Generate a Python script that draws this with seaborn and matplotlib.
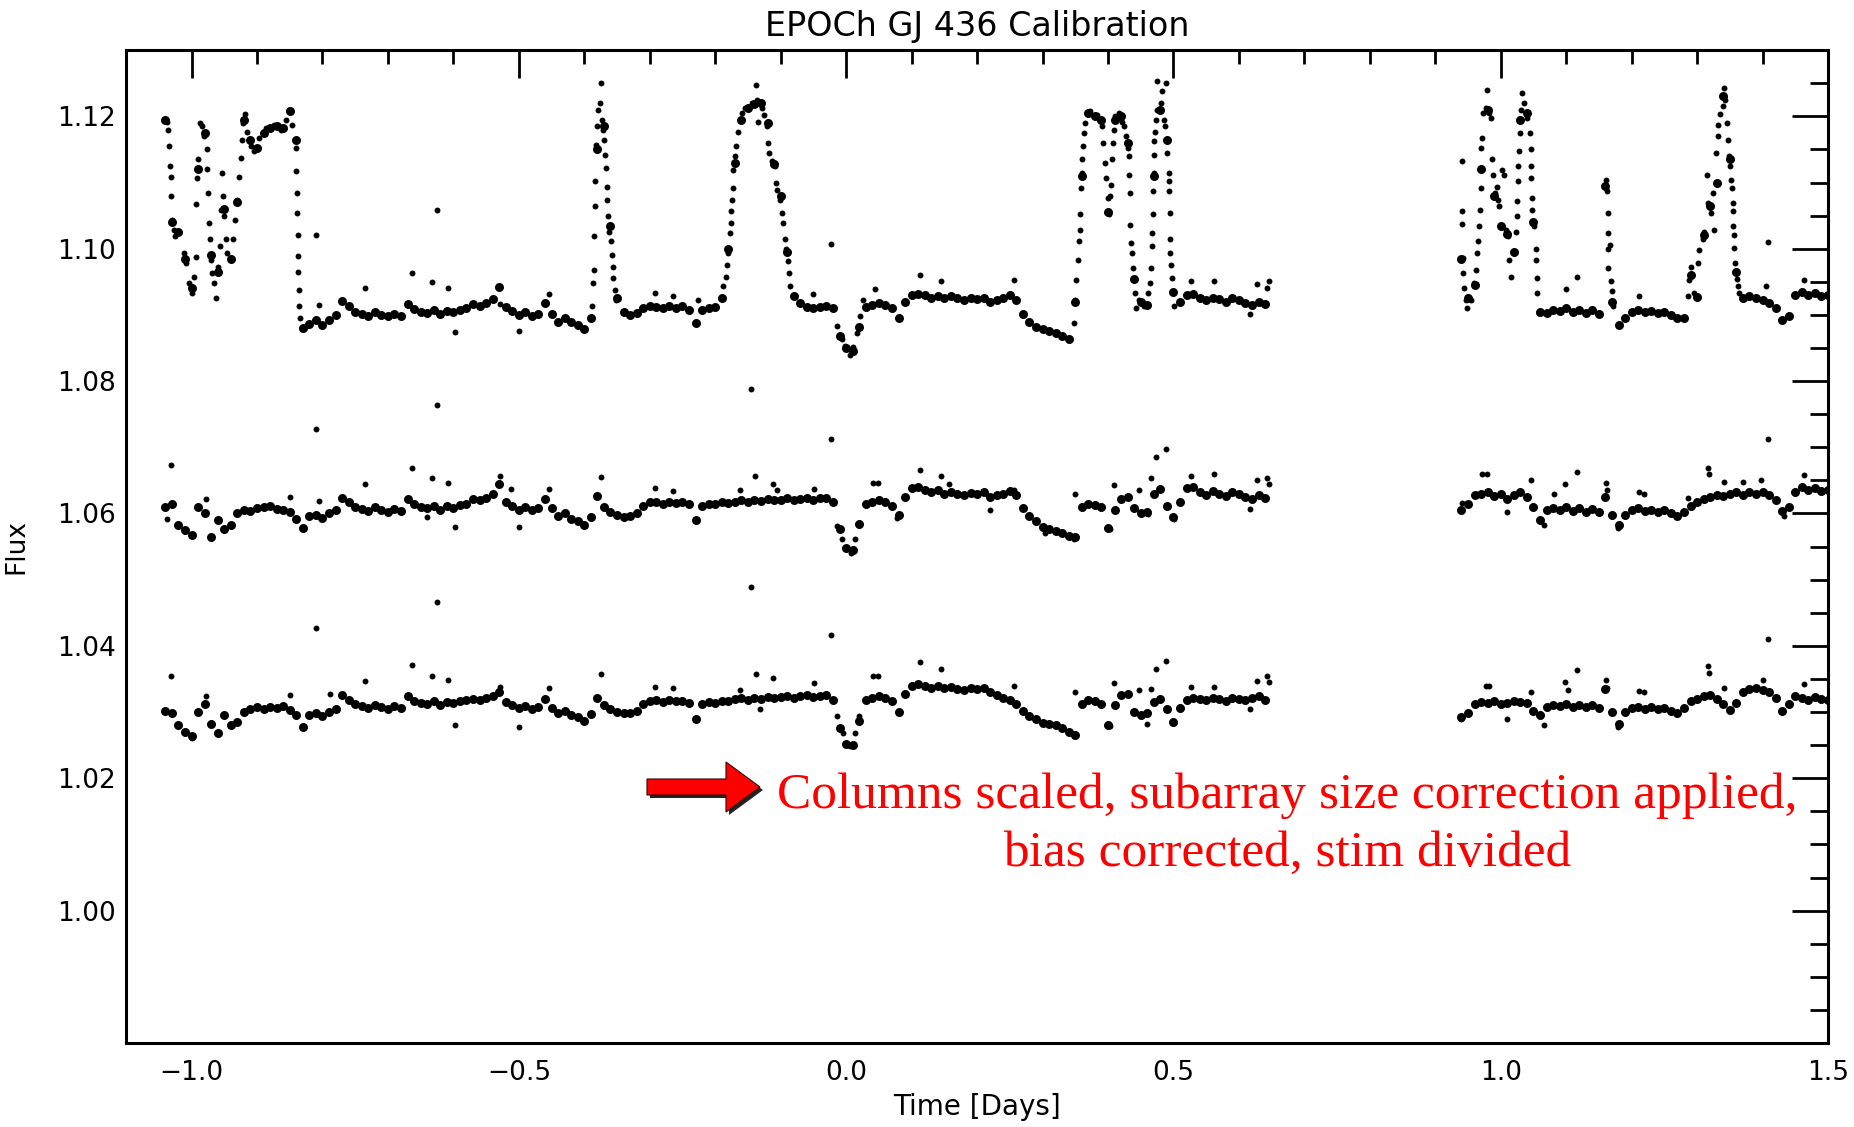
import numpy as np
import pandas as pd
import matplotlib
matplotlib.use("Agg")
import matplotlib.pyplot as plt
from matplotlib.ticker import MultipleLocator, FuncFormatter
from matplotlib.patches import Polygon
import seaborn as sns

# ---- light curves (0.01 d cadence) ----
T_STEP = 0.01
T_START_A = -1.04   # first chunk -1.04 .. 0.64
T_START_B = 0.94    # second chunk 0.94 .. 1.50

# raw (top) curve
top_a = [
    1.1195, 1.1040, 1.1025, 1.0985, 1.0940, 1.1120, 1.1175, 1.0990, 1.0965, 1.1060,
    1.0985, 1.1070, 1.1195, 1.1165, 1.1152, 1.1175, 1.1183, 1.1186, 1.1182, 1.1208,
    1.1165, 1.0880, 1.0886, 1.0892, 1.0885, 1.0893, 1.0900, 1.0921, 1.0913, 1.0905,
    1.0902, 1.0899, 1.0905, 1.0900, 1.0898, 1.0902, 1.0899, 1.0917, 1.0909, 1.0905,
    1.0903, 1.0907, 1.0901, 1.0906, 1.0904, 1.0908, 1.0910, 1.0916, 1.0914, 1.0918,
    1.0924, 1.0942, 1.0912, 1.0906, 1.0900, 1.0904, 1.0899, 1.0902, 1.0918, 1.0902,
    1.0890, 1.0895, 1.0890, 1.0885, 1.0878, 1.0895, 1.1150, 1.1185, 1.1035, 1.0925,
    1.0905, 1.0900, 1.0903, 1.0910, 1.0913, 1.0912, 1.0910, 1.0914, 1.0911, 1.0913,
    1.0908, 1.0888, 1.0908, 1.0910, 1.0912, 1.0925, 1.1000, 1.1130, 1.1195, 1.1212,
    1.1218, 1.1220, 1.1190, 1.1128, 1.1080, 1.0995, 1.0928, 1.0918, 1.0912, 1.0910,
    1.0912, 1.0914, 1.0910, 1.0868, 1.0850, 1.0845, 1.0882, 1.0912, 1.0915, 1.0918,
    1.0915, 1.0910, 1.0896, 1.0920, 1.0930, 1.0932, 1.0930, 1.0926, 1.0929, 1.0925,
    1.0928, 1.0925, 1.0923, 1.0926, 1.0924, 1.0926, 1.0920, 1.0922, 1.0925, 1.0930,
    1.0922, 1.0902, 1.0890, 1.0882, 1.0878, 1.0875, 1.0872, 1.0868, 1.0864, 1.0920,
    1.1110, 1.1205, 1.1200, 1.1195, 1.1055, 1.1195, 1.1200, 1.1160, 1.0955, 1.0920,
    1.0915, 1.1110, 1.1210, 1.1165, 1.0935, 1.0920, 1.0930, 1.0932, 1.0925, 1.0922,
    1.0926, 1.0924, 1.0920, 1.0925, 1.0922, 1.0918, 1.0915, 1.0920, 1.0916,
]
top_b = [
    1.0985, 1.0925, 1.0945, 1.1120, 1.1210, 1.1080, 1.1035, 1.1022, 1.0995, 1.1195,
    1.1205, 1.1040, 1.0905, 1.0903, 1.0908, 1.0906, 1.0910, 1.0904, 1.0908, 1.0903,
    1.0907, 1.0902, 1.1095, 1.0920, 1.0885, 1.0895, 1.0905, 1.0908, 1.0904, 1.0906,
    1.0903, 1.0905, 1.0900, 1.0896, 1.0895, 1.0960, 1.0927, 1.1020, 1.1065, 1.1100,
    1.1230, 1.1135, 1.0965, 1.0925, 1.0928, 1.0925, 1.0922, 1.0918, 1.0910, 1.0893,
    1.0898, 1.0930, 1.0935, 1.0930, 1.0933, 1.0928, 1.0930,
]

# intermediate (middle) curve
mid_a = [
    1.0610, 1.0615, 1.0582, 1.0575, 1.0568, 1.0610, 1.0600, 1.0565, 1.0590, 1.0576,
    1.0582, 1.0600, 1.0606, 1.0604, 1.0608, 1.0610, 1.0612, 1.0607, 1.0605, 1.0603,
    1.0592, 1.0578, 1.0596, 1.0598, 1.0593, 1.0600, 1.0605, 1.0624, 1.0618, 1.0610,
    1.0607, 1.0604, 1.0610, 1.0605, 1.0603, 1.0607, 1.0604, 1.0622, 1.0614, 1.0610,
    1.0608, 1.0612, 1.0606, 1.0611, 1.0609, 1.0613, 1.0615, 1.0622, 1.0620, 1.0624,
    1.0630, 1.0645, 1.0618, 1.0612, 1.0606, 1.0610, 1.0605, 1.0608, 1.0622, 1.0608,
    1.0596, 1.0600, 1.0592, 1.0588, 1.0582, 1.0594, 1.0626, 1.0610, 1.0603, 1.0598,
    1.0595, 1.0596, 1.0600, 1.0612, 1.0617, 1.0618, 1.0615, 1.0618, 1.0616, 1.0617,
    1.0614, 1.0590, 1.0612, 1.0615, 1.0614, 1.0617, 1.0616, 1.0618, 1.0620, 1.0617,
    1.0621, 1.0619, 1.0622, 1.0620, 1.0621, 1.0623, 1.0620, 1.0622, 1.0624, 1.0621,
    1.0623, 1.0624, 1.0618, 1.0576, 1.0548, 1.0545, 1.0584, 1.0614, 1.0618, 1.0620,
    1.0617, 1.0612, 1.0598, 1.0625, 1.0638, 1.0640, 1.0636, 1.0632, 1.0635, 1.0630,
    1.0633, 1.0630, 1.0628, 1.0631, 1.0629, 1.0632, 1.0625, 1.0628, 1.0630, 1.0634,
    1.0628, 1.0608, 1.0596, 1.0588, 1.0580, 1.0576, 1.0574, 1.0570, 1.0566, 1.0565,
    1.0610, 1.0615, 1.0613, 1.0610, 1.0578, 1.0605, 1.0622, 1.0625, 1.0608, 1.0600,
    1.0603, 1.0630, 1.0637, 1.0612, 1.0594, 1.0618, 1.0638, 1.0640, 1.0632, 1.0628,
    1.0634, 1.0630, 1.0627, 1.0632, 1.0629, 1.0625, 1.0622, 1.0628, 1.0624,
]
mid_b = [
    1.0605, 1.0615, 1.0628, 1.0630, 1.0632, 1.0626, 1.0630, 1.0622, 1.0628, 1.0632,
    1.0625, 1.0610, 1.0590, 1.0605, 1.0608, 1.0606, 1.0610, 1.0604, 1.0608, 1.0603,
    1.0607, 1.0602, 1.0625, 1.0598, 1.0582, 1.0598, 1.0605, 1.0608, 1.0604, 1.0606,
    1.0603, 1.0605, 1.0600, 1.0596, 1.0603, 1.0612, 1.0618, 1.0622, 1.0625, 1.0628,
    1.0626, 1.0630, 1.0632, 1.0628, 1.0633, 1.0630, 1.0632, 1.0628, 1.0620, 1.0604,
    1.0610, 1.0632, 1.0640, 1.0636, 1.0638, 1.0634, 1.0636,
]

# fully calibrated (bottom) curve
bot_a = [
    1.0302, 1.0298, 1.0280, 1.0270, 1.0264, 1.0300, 1.0312, 1.0282, 1.0268, 1.0296,
    1.0280, 1.0285, 1.0300, 1.0305, 1.0307, 1.0304, 1.0308, 1.0306, 1.0309, 1.0303,
    1.0295, 1.0278, 1.0296, 1.0298, 1.0294, 1.0300, 1.0304, 1.0326, 1.0318, 1.0312,
    1.0309, 1.0306, 1.0311, 1.0308, 1.0305, 1.0309, 1.0306, 1.0325, 1.0317, 1.0314,
    1.0312, 1.0316, 1.0311, 1.0315, 1.0313, 1.0316, 1.0318, 1.0320, 1.0318, 1.0321,
    1.0324, 1.0330, 1.0315, 1.0310, 1.0306, 1.0309, 1.0305, 1.0308, 1.0320, 1.0306,
    1.0298, 1.0302, 1.0296, 1.0292, 1.0286, 1.0297, 1.0322, 1.0310, 1.0304, 1.0300,
    1.0298, 1.0299, 1.0302, 1.0312, 1.0317, 1.0318, 1.0315, 1.0318, 1.0316, 1.0317,
    1.0314, 1.0290, 1.0312, 1.0315, 1.0314, 1.0316, 1.0317, 1.0319, 1.0321, 1.0318,
    1.0322, 1.0320, 1.0323, 1.0321, 1.0323, 1.0325, 1.0322, 1.0324, 1.0326, 1.0323,
    1.0325, 1.0326, 1.0318, 1.0276, 1.0252, 1.0250, 1.0286, 1.0318, 1.0322, 1.0324,
    1.0321, 1.0316, 1.0300, 1.0328, 1.0340, 1.0343, 1.0340, 1.0337, 1.0340, 1.0336,
    1.0338, 1.0335, 1.0334, 1.0337, 1.0335, 1.0337, 1.0330, 1.0326, 1.0322, 1.0318,
    1.0312, 1.0302, 1.0294, 1.0290, 1.0284, 1.0282, 1.0280, 1.0276, 1.0270, 1.0266,
    1.0312, 1.0318, 1.0316, 1.0312, 1.0280, 1.0310, 1.0326, 1.0328, 1.0300, 1.0296,
    1.0298, 1.0315, 1.0320, 1.0304, 1.0285, 1.0306, 1.0318, 1.0322, 1.0320, 1.0318,
    1.0322, 1.0319, 1.0316, 1.0322, 1.0320, 1.0318, 1.0321, 1.0324, 1.0318,
]
bot_b = [
    1.0292, 1.0298, 1.0312, 1.0315, 1.0313, 1.0316, 1.0312, 1.0314, 1.0317, 1.0315,
    1.0313, 1.0302, 1.0296, 1.0308, 1.0311, 1.0309, 1.0312, 1.0308, 1.0311, 1.0307,
    1.0310, 1.0306, 1.0335, 1.0300, 1.0282, 1.0300, 1.0306, 1.0308, 1.0305, 1.0307,
    1.0304, 1.0306, 1.0302, 1.0298, 1.0306, 1.0316, 1.0320, 1.0324, 1.0326, 1.0320,
    1.0312, 1.0303, 1.0314, 1.0330, 1.0335, 1.0336, 1.0333, 1.0330, 1.0322, 1.0302,
    1.0312, 1.0324, 1.0322, 1.0318, 1.0323, 1.0320, 1.0318,
]

# extra samples on steep edges + outliers (time, flux)
top_extra = [
    (-1.0372, 1.1192), (-1.0362, 1.1180), (-1.0346, 1.1155), (-1.0331, 1.1125), (-1.0321, 1.1108),
    (-1.0311, 1.1079), (-1.0295, 1.1044), (-1.0270, 1.1029), (-1.0245, 1.1019), (-1.0117, 1.0994),
    (-1.0092, 1.0978), (-1.0041, 1.0948), (-1.0000, 1.0933), (-0.9964, 1.0958), (-0.9939, 1.0988),
    (-0.9929, 1.1067), (-0.9913, 1.1107), (-0.9898, 1.1135), (-0.9878, 1.1190), (-0.9847, 1.1185),
    (-0.9811, 1.1170), (-0.9770, 1.1150), (-0.9760, 1.1120), (-0.9745, 1.1084), (-0.9735, 1.1039),
    (-0.9725, 1.1014), (-0.9709, 1.0983), (-0.9684, 1.0963), (-0.9658, 1.0948), (-0.9633, 1.0925),
    (-0.9597, 1.0973), (-0.9572, 1.1004), (-0.9551, 1.1059), (-0.9541, 1.1114), (-0.9521, 1.1079),
    (-0.9500, 1.1049), (-0.9480, 1.1014), (-0.9455, 1.0994), (-0.9404, 1.0986), (-0.9368, 1.1014),
    (-0.9342, 1.1044), (-0.9312, 1.1074), (-0.9276, 1.1109), (-0.9251, 1.1137), (-0.9235, 1.1165),
    (-0.9215, 1.1190), (-0.9190, 1.1203), (-0.9149, 1.1177), (-0.9098, 1.1155), (-0.9047, 1.1147),
    (-0.8970, 1.1167), (-0.8868, 1.1182), (-0.8741, 1.1187), (-0.8639, 1.1180), (-0.8563, 1.1195),
    (-0.8512, 1.1210), (-0.8461, 1.1187), (-0.8410, 1.1152), (-0.8400, 1.1118), (-0.8389, 1.1084),
    (-0.8389, 1.1054), (-0.8379, 1.1021), (-0.8374, 1.0989), (-0.8369, 1.0965), (-0.8359, 1.0938),
    (-0.8359, 1.0913), (-0.8348, 1.0895), (-0.8308, 1.0878),
    (-0.6243, 1.1059), (-0.8104, 1.1021), (-0.6626, 1.0964), (-0.7355, 1.0940), (-0.6320, 1.0949),
    (-0.6080, 1.0941), (-0.5978, 1.0874), (-0.4995, 1.0875), (-0.4536, 1.0932), (-0.5290, 1.0916),
    (-0.8053, 1.0915),
    (-0.3879, 1.0913), (-0.3863, 1.0948), (-0.3853, 1.0968), (-0.3848, 1.1019), (-0.3838, 1.1064),
    (-0.3838, 1.1102), (-0.3828, 1.1157), (-0.3812, 1.1185), (-0.3787, 1.1210), (-0.3761, 1.1220),
    (-0.3751, 1.1250), (-0.3736, 1.1195), (-0.3710, 1.1180), (-0.3695, 1.1165), (-0.3685, 1.1142),
    (-0.3675, 1.1122), (-0.3659, 1.1094), (-0.3649, 1.1074), (-0.3634, 1.1049), (-0.3619, 1.1026),
    (-0.3598, 1.1011), (-0.3583, 1.0991), (-0.3568, 1.0973), (-0.3558, 1.0956), (-0.3532, 1.0938),
    (-0.3517, 1.0923),
    (-0.1876, 1.0943), (-0.1840, 1.0958), (-0.1825, 1.0976), (-0.1799, 1.0993), (-0.1774, 1.1024),
    (-0.1764, 1.1039), (-0.1758, 1.1057), (-0.1748, 1.1074), (-0.1733, 1.1092), (-0.1723, 1.1119),
    (-0.1697, 1.1140), (-0.1682, 1.1155), (-0.1646, 1.1177), (-0.1595, 1.1205), (-0.1544, 1.1213),
    (-0.1442, 1.1220), (-0.1381, 1.1248), (-0.1366, 1.1225), (-0.1290, 1.1213), (-0.1254, 1.1202),
    (-0.1340, 1.1192), (-0.1213, 1.1185), (-0.1188, 1.1160), (-0.1172, 1.1145), (-0.1137, 1.1132),
    (-0.1086, 1.1125), (-0.1070, 1.1099), (-0.1050, 1.1089), (-0.1009, 1.1074), (-0.0984, 1.1054),
    (-0.0958, 1.1039), (-0.0933, 1.1014), (-0.0917, 1.0999), (-0.0892, 1.0981), (-0.0866, 1.0963),
    (-0.0856, 1.0943), (-0.0805, 1.0928),
    (-0.0143, 1.0883), (-0.0066, 1.0863), (-0.0015, 1.0853), (0.0061, 1.0840), (0.0112, 1.0852),
    (0.0163, 1.0873), (0.0214, 1.0898), (0.0265, 1.0923),
    (-0.0234, 1.1007), (0.1132, 1.0961), (0.1453, 1.0952), (0.0444, 1.0939), (-0.0499, 1.0932),
    (-0.2920, 1.0933), (-0.2640, 1.0928), (-0.2258, 1.0923), (0.2559, 1.0953),
    (0.3476, 1.0888), (0.3502, 1.0923), (0.3517, 1.0953), (0.3537, 1.0983), (0.3553, 1.1011),
    (0.3568, 1.1029), (0.3578, 1.1052), (0.3588, 1.1092), (0.3604, 1.1115), (0.3609, 1.1135),
    (0.3619, 1.1155), (0.3629, 1.1175), (0.3655, 1.1190), (0.3680, 1.1205), (0.3731, 1.1208),
    (0.3782, 1.1200), (0.3833, 1.1202), (0.3884, 1.1195), (0.3909, 1.1185), (0.3925, 1.1160),
    (0.3960, 1.1130), (0.3976, 1.1107), (0.3996, 1.1077), (0.4011, 1.1052), (0.4037, 1.1079),
    (0.4047, 1.1097), (0.4062, 1.1135), (0.4078, 1.1160), (0.4088, 1.1180), (0.4113, 1.1200),
    (0.4164, 1.1205), (0.4215, 1.1192), (0.4241, 1.1185), (0.4282, 1.1170), (0.4302, 1.1152),
    (0.4317, 1.1140), (0.4327, 1.1112), (0.4332, 1.1084), (0.4343, 1.1036), (0.4353, 1.1009),
    (0.4368, 1.0993), (0.4383, 1.0971), (0.4394, 1.0953), (0.4419, 1.0933), (0.4434, 1.0911),
    (0.4470, 1.0923), (0.4547, 1.0913), (0.4608, 1.0933),
    (0.4648, 1.0948), (0.4659, 1.0971), (0.4669, 1.1004), (0.4679, 1.1024), (0.4684, 1.1052),
    (0.4694, 1.1087), (0.4699, 1.1115), (0.4699, 1.1142), (0.4710, 1.1162), (0.4720, 1.1177),
    (0.4735, 1.1195), (0.4750, 1.1210), (0.4750, 1.1254), (0.4812, 1.1220), (0.4827, 1.1238),
    (0.4888, 1.1251), (0.4852, 1.1195), (0.4878, 1.1185), (0.4893, 1.1165), (0.4903, 1.1145),
    (0.4929, 1.1115), (0.4929, 1.1102), (0.4939, 1.1087), (0.4944, 1.1054), (0.4954, 1.1014),
    (0.4954, 1.0993), (0.4964, 1.0976), (0.4980, 1.0956), (0.4995, 1.0933), (0.5005, 1.0913),
    (0.6432, 1.0941), (0.6458, 1.0951), (0.6167, 1.0901), (0.5275, 1.0951), (0.5617, 1.0951),
    (0.6269, 1.0946),
    (0.9414, 1.1132), (0.9414, 1.1057), (0.9414, 1.1037), (0.9429, 1.0986), (0.9429, 1.0963),
    (0.9440, 1.0941), (0.9465, 1.0923), (0.9491, 1.0910), (0.9542, 1.0923), (0.9592, 1.0948),
    (0.9618, 1.0968), (0.9643, 1.0994), (0.9654, 1.1011), (0.9669, 1.1034), (0.9684, 1.1059),
    (0.9694, 1.1092), (0.9694, 1.1122), (0.9705, 1.1152), (0.9720, 1.1167), (0.9735, 1.1205),
    (0.9771, 1.1213), (0.9796, 1.1240), (0.9822, 1.1205), (0.9847, 1.1198), (0.9873, 1.1135),
    (0.9888, 1.1112), (0.9908, 1.1084), (0.9939, 1.1094), (0.9959, 1.1074), (0.9975, 1.1064),
    (1.0000, 1.1034), (1.0025, 1.1119), (1.0051, 1.1112), (1.0077, 1.1029), (1.0112, 1.1019),
    (1.0128, 1.0983), (1.0153, 1.0958), (1.0204, 1.0994), (1.0230, 1.1026), (1.0245, 1.1049),
    (1.0255, 1.1072), (1.0265, 1.1102), (1.0270, 1.1125), (1.0281, 1.1147), (1.0291, 1.1175),
    (1.0306, 1.1210), (1.0331, 1.1235), (1.0357, 1.1220), (1.0398, 1.1198), (1.0444, 1.1175),
    (1.0459, 1.1150), (1.0459, 1.1125), (1.0459, 1.1107), (1.0474, 1.1077), (1.0484, 1.1059),
    (1.0510, 1.1034), (1.0535, 1.0999), (1.0535, 1.0983), (1.0550, 1.0956), (1.0561, 1.0933),
    (1.0586, 1.0903),
    (1.1606, 1.1104), (1.1621, 1.1087), (1.1631, 1.1054), (1.1646, 1.1024), (1.1662, 1.1006),
    (1.1631, 1.0999), (1.1641, 1.0971), (1.1682, 1.0951), (1.1692, 1.0936), (1.1708, 1.0913),
    (1.2854, 1.0928), (1.2880, 1.0953), (1.2905, 1.0973), (1.2956, 1.0933), (1.3007, 1.0978),
    (1.3033, 1.0998), (1.3084, 1.1014), (1.3109, 1.1026), (1.3150, 1.1112), (1.3170, 1.1069),
    (1.3211, 1.1054), (1.3237, 1.1084), (1.3262, 1.1029), (1.3288, 1.1145), (1.3313, 1.1170),
    (1.3323, 1.1187), (1.3354, 1.1203), (1.3390, 1.1215), (1.3415, 1.1243), (1.3430, 1.1225),
    (1.3456, 1.1190), (1.3466, 1.1165), (1.3492, 1.1140), (1.3507, 1.1125), (1.3517, 1.1104),
    (1.3527, 1.1092), (1.3543, 1.1069), (1.3543, 1.1057), (1.3553, 1.1034), (1.3558, 1.1021),
    (1.3568, 1.1001), (1.3578, 1.0978), (1.3594, 1.0966), (1.3604, 1.0955), (1.3619, 1.0943),
    (1.3645, 1.0933),
    (1.4078, 1.1010), (1.4638, 1.0953), (1.1172, 1.0957), (1.1004, 1.0939), (1.2115, 1.0928),
    (1.4052, 1.0944),
]
mid_extra = [
    (-1.0321, 1.0674), (-1.0372, 1.0592), (-0.9786, 1.0622), (-0.8496, 1.0625), (-0.8053, 1.0619),
    (-0.7355, 1.0645), (-0.6626, 1.0669), (-0.6320, 1.0654), (-0.6080, 1.0646), (-0.5978, 1.0579),
    (-0.5290, 1.0656), (-0.5122, 1.0637), (-0.4995, 1.0580), (-0.4536, 1.0637), (-0.6396, 1.0594),
    (-0.8104, 1.0728), (-0.6243, 1.0764), (-0.1458, 1.0788),
    (-0.3751, 1.0655), (-0.2920, 1.0639), (-0.2640, 1.0634), (-0.1621, 1.0635), (-0.1391, 1.0656),
    (-0.1111, 1.0644), (-0.1060, 1.0635), (-0.0489, 1.0637), (-0.0234, 1.0712),
    (-0.0143, 1.0581), (-0.0066, 1.0561), (0.0010, 1.0546), (0.0071, 1.0541), (0.0138, 1.0561),
    (0.0189, 1.0583), (0.0418, 1.0646), (0.0494, 1.0646), (0.1132, 1.0666), (0.1453, 1.0657),
    (0.1565, 1.0644), (0.0775, 1.0593), (0.2202, 1.0606),
    (0.2559, 1.0636), (0.3043, 1.0570), (0.3491, 1.0630), (0.4088, 1.0643), (0.4480, 1.0636),
    (0.4608, 1.0599), (0.4659, 1.0654), (0.4740, 1.0685), (0.4888, 1.0698), (0.5275, 1.0657),
    (0.5617, 1.0659), (0.6167, 1.0607), (0.6269, 1.0651), (0.6432, 1.0654), (0.6458, 1.0645),
    (0.3476, 1.0561), (0.4037, 1.0576), (0.5005, 1.0591),
    (0.9389, 1.0606), (0.9414, 1.0616), (0.9720, 1.0660), (0.9796, 1.0660), (1.0102, 1.0603),
    (1.0459, 1.0650), (1.0663, 1.0582), (1.0816, 1.0629), (1.0979, 1.0644), (1.1172, 1.0662),
    (1.1606, 1.0646), (1.1621, 1.0636), (1.2115, 1.0632), (1.2192, 1.0629), (1.2854, 1.0624),
    (1.3160, 1.0668), (1.3186, 1.0659), (1.3415, 1.0648), (1.3695, 1.0647), (1.3976, 1.0651),
    (1.4078, 1.0712), (1.4332, 1.0596), (1.4638, 1.0658), (1.1784, 1.0578),
]
bot_extra = [
    (-1.0321, 1.0354), (-0.9786, 1.0324), (-0.9990, 1.0261), (-0.8496, 1.0326), (-0.8104, 1.0427),
    (-0.7890, 1.0327), (-0.7355, 1.0347), (-0.6626, 1.0371), (-0.6320, 1.0355), (-0.6243, 1.0466),
    (-0.6080, 1.0348), (-0.5978, 1.0280), (-0.5290, 1.0338), (-0.4995, 1.0278), (-0.4536, 1.0336),
    (-0.3751, 1.0357), (-0.2920, 1.0338), (-0.2640, 1.0337), (-0.1621, 1.0334), (-0.1458, 1.0489),
    (-0.1381, 1.0357), (-0.1111, 1.0352), (-0.0489, 1.0344), (-0.0234, 1.0417), (-0.0143, 1.0294),
    (-0.0041, 1.0269), (0.0061, 1.0248), (0.0138, 1.0269), (0.0189, 1.0294), (0.0418, 1.0354),
    (0.0494, 1.0354), (0.1132, 1.0375), (0.1453, 1.0365), (-0.1315, 1.0304),
    (0.2559, 1.0340), (0.3476, 1.0264), (0.3491, 1.0330), (0.4088, 1.0344), (0.4037, 1.0279),
    (0.4480, 1.0333), (0.4598, 1.0282), (0.4659, 1.0335), (0.4740, 1.0365), (0.4888, 1.0377),
    (0.5005, 1.0284), (0.5275, 1.0338), (0.5617, 1.0338), (0.6167, 1.0304), (0.6269, 1.0347),
    (0.6432, 1.0354), (0.6458, 1.0345),
    (0.9389, 1.0289), (0.9771, 1.0339), (0.9822, 1.0339), (1.0102, 1.0289), (1.0459, 1.0330),
    (1.0663, 1.0281), (1.0984, 1.0346), (1.1020, 1.0334), (1.1172, 1.0363), (1.1606, 1.0349),
    (1.1621, 1.0337), (1.1784, 1.0278), (1.2115, 1.0332), (1.2192, 1.0331), (1.3160, 1.0369),
    (1.3186, 1.0359), (1.3415, 1.0337), (1.4078, 1.0411), (1.4001, 1.0349), (1.4638, 1.0343),
]

NOTE = "Columns scaled, subarray size correction applied,\nbias corrected, stim divided"


def chunk_times(start, values):
    # regular cadence for each observing chunk
    return np.round(start + T_STEP * np.arange(len(values)), 3)


grid_parts = []
for name, va, vb in [("top", top_a, top_b), ("mid", mid_a, mid_b), ("bot", bot_a, bot_b)]:
    grid_parts.append(pd.DataFrame({"time": chunk_times(T_START_A, va), "flux": va, "curve": name}))
    grid_parts.append(pd.DataFrame({"time": chunk_times(T_START_B, vb), "flux": vb, "curve": name}))
df_grid = pd.concat(grid_parts, ignore_index=True)

extra_parts = []
for name, pts in [("top", top_extra), ("mid", mid_extra), ("bot", bot_extra)]:
    tt, ff = zip(*pts)
    extra_parts.append(pd.DataFrame({"time": tt, "flux": ff, "curve": name}))
df_extra = pd.concat(extra_parts, ignore_index=True)

sns.set_theme(style="white")
plt.rcParams["font.family"] = ["DejaVu Sans"]
plt.rcParams["text.color"] = "black"
plt.rcParams["axes.labelcolor"] = "black"
plt.rcParams["xtick.color"] = "black"
plt.rcParams["ytick.color"] = "black"

fig = plt.figure(figsize=(18.54, 11.27), dpi=100)
ax = fig.add_axes([0.068, 0.0745, 0.918, 0.881])

sns.scatterplot(data=df_grid, x="time", y="flux", color="black", s=42,
                linewidth=0, marker="o", ax=ax, legend=False)
sns.scatterplot(data=df_extra, x="time", y="flux", color="black", s=18,
                linewidth=0, marker="o", ax=ax, legend=False)

ax.set_xlim(-1.1, 1.5)
ax.set_ylim(0.98, 1.13)
ax.xaxis.set_major_locator(MultipleLocator(0.5))
ax.xaxis.set_minor_locator(MultipleLocator(0.1))
ax.xaxis.set_major_formatter(FuncFormatter(lambda v, p: f"{v:.1f}".replace("-", "\u2212")))
ax.set_yticks([1.00, 1.02, 1.04, 1.06, 1.08, 1.10, 1.12])
ax.yaxis.set_minor_locator(MultipleLocator(0.005))
ax.yaxis.set_major_formatter(FuncFormatter(lambda v, p: f"{v:.2f}"))

for sp in ax.spines.values():
    sp.set_visible(True)
    sp.set_linewidth(2.2)
    sp.set_color("black")

ax.tick_params(which="both", direction="in", top=True, right=True,
               width=2.0, color="black", labelcolor="black", labelsize=19)
ax.tick_params(axis="x", which="major", length=20, pad=12)
ax.tick_params(axis="x", which="minor", length=10)
ax.tick_params(axis="y", which="major", length=26, pad=7)
ax.tick_params(axis="y", which="minor", length=13)

ax.set_xlabel("Time [Days]", fontsize=20, labelpad=5, color="black")
ax.set_ylabel("Flux", fontsize=19, labelpad=20, color="black")
ax.set_title("EPOCh GJ 436 Calibration", fontsize=24, pad=10, color="black")
ax.grid(False)

ax.text(0.682, 0.2195, NOTE, transform=ax.transAxes, ha="center", va="center",
        multialignment="center", linespacing=1.32, color="#ff0000",
        fontsize=37, family=["Liberation Serif", "DejaVu Serif"])

# red block arrow with a dark drop shadow (figure pixels, y down)
arrow_px = [(647, 779), (726, 779), (726, 762), (760, 787), (726, 812), (726, 795), (647, 795)]
W, H = 1854, 1127


def to_fig(pts, dx=0, dy=0):
    return [((x + dx) / W, 1 - (y + dy) / H) for x, y in pts]


fig.patches.append(Polygon(to_fig(arrow_px, 3, 3), closed=True, facecolor="#222222",
                           edgecolor="none", transform=fig.transFigure, figure=fig))
fig.patches.append(Polygon(to_fig(arrow_px), closed=True, facecolor="#ff0000",
                           edgecolor="#400000", linewidth=0.8, transform=fig.transFigure, figure=fig))

fig.savefig("out.png", dpi=100, facecolor="white")
